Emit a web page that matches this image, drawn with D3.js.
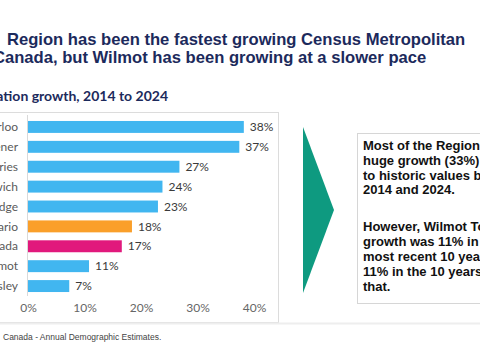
<!DOCTYPE html>
<html>
<head>
<meta charset="utf-8">
<script src="https://cdn.jsdelivr.net/npm/d3@7"></script>
<style>
  body { margin: 0; background: #fff; overflow: hidden; }
  svg { display: block; }
</style>
</head>
<body>
<script>
// chart data
const categories = ["Region of Waterloo", "Kitchener", "North Dumfries", "Woolwich",
                    "Cambridge", "Ontario", "Canada", "Wilmot", "Wellesley"];
const growth = [38.2, 37.4, 26.8, 23.8, 23.0, 18.4, 16.6, 10.8, 7.3];
const barColours = ["#41b6f0", "#41b6f0", "#41b6f0", "#41b6f0", "#41b6f0",
                    "#fa9f2a", "#e1197c", "#41b6f0", "#41b6f0"];
const xTicks = [0, 10, 20, 30, 40];

const titleLines = ["Region has been the fastest growing Census Metropolitan",
                    "Canada, but Wilmot has been growing at a slower pace"];
const subtitle = "Population growth, 2014 to 2024";
const noteLines1 = ["Most of the Region has seen", "huge growth (33%) compared",
                    "to historic values between", "2014 and 2024."];
const noteLines2 = ["However, Wilmot Township's", "growth was 11% in the",
                    "most recent 10 years, and", "11% in the 10 years before", "that."];
const source = "Canada - Annual Demographic Estimates.";

window.onload = function() {
  const svg = d3.select("body").append("svg")
    .attr("width", 480)
    .attr("height", 360);

  const navy = "#1c2a5c";

  // title
  svg.append("text").attr("x", 7).attr("y", 45)
    .style("font-family", "Liberation Sans, Arial, sans-serif")
    .style("font-weight", "bold").style("font-size", "16.6px")
    .attr("fill", navy).text(titleLines[0]);
  svg.append("text").attr("x", -7).attr("y", 63)
    .style("font-family", "Liberation Sans, Arial, sans-serif")
    .style("font-weight", "bold").style("font-size", "16.6px")
    .attr("fill", navy).text(titleLines[1]);

  // subtitle (left part falls off the page)
  svg.append("text").attr("x", 168).attr("y", 101)
    .attr("text-anchor", "end")
    .style("font-family", "Lato, sans-serif")
    .style("font-weight", "bold").style("font-size", "14px")
    .attr("fill", navy).text(subtitle);

  // chart frame
  svg.append("rect")
    .attr("x", -10).attr("y", 112.5)
    .attr("width", 288.5).attr("height", 210)
    .attr("fill", "none").attr("stroke", "#dcdcdc").attr("stroke-width", 1);
  svg.append("line")
    .attr("x1", 0).attr("x2", 480).attr("y1", 323.5).attr("y2", 323.5)
    .attr("stroke", "#eeeeee").attr("stroke-width", 2);

  // scales
  const x = d3.scaleLinear().domain([0, 40]).range([28, 254]);
  const y = d3.scaleBand().domain(categories).range([117, 296])
    .paddingInner(0.4).paddingOuter(0.2);

  // axis line
  svg.append("line")
    .attr("x1", 27.5).attr("x2", 27.5).attr("y1", 115).attr("y2", 296)
    .attr("stroke", "#d9d9d9");

  // category labels
  svg.selectAll(".cat")
    .data(categories)
    .enter()
    .append("text")
    .attr("x", 18)
    .attr("y", d => y(d) + y.bandwidth() / 2)
    .attr("dy", "0.35em")
    .attr("text-anchor", "end")
    .style("font-family", "Lato, sans-serif")
    .style("font-size", "12px")
    .attr("fill", "#5a5a5a")
    .text(d => d);

  // bars
  svg.selectAll(".bar")
    .data(growth)
    .enter()
    .append("rect")
    .attr("x", x(0))
    .attr("y", (d, i) => y(categories[i]))
    .attr("width", d => x(d) - x(0))
    .attr("height", y.bandwidth())
    .attr("fill", (d, i) => barColours[i]);

  // value labels
  svg.selectAll(".val")
    .data(growth)
    .enter()
    .append("text")
    .attr("x", d => x(d) + 6)
    .attr("y", (d, i) => y(categories[i]) + y.bandwidth() / 2)
    .attr("dy", "0.35em")
    .style("font-family", "Lato, sans-serif")
    .style("font-size", "12px")
    .attr("fill", "#3a3a3a")
    .text(d => Math.round(d) + "%");

  // x axis
  const xAxis = d3.axisBottom(x).tickValues(xTicks)
    .tickFormat(d => d + "%").tickSize(0).tickPadding(0);
  const gx = svg.append("g")
    .attr("transform", "translate(0, 303)")
    .call(xAxis);
  gx.select(".domain").remove();
  gx.selectAll("text")
    .style("font-family", "Lato, sans-serif")
    .style("font-size", "12px")
    .attr("fill", "#666");

  // arrow
  svg.append("path")
    .attr("d", "M303,127 L334,210 L303,293 Z")
    .attr("fill", "#0e9a80");

  // note box
  svg.append("rect")
    .attr("x", 357.5).attr("y", 133.5)
    .attr("width", 140).attr("height", 170)
    .attr("fill", "#fff").attr("stroke", "#d6d6d6");

  const note = svg.append("g")
    .style("font-family", "Liberation Sans, Arial, sans-serif")
    .style("font-weight", "bold").style("font-size", "13px")
    .attr("fill", "#111");
  noteLines1.forEach((t, i) => {
    note.append("text").attr("x", 363).attr("y", 150 + i * 14.8).text(t);
  });
  noteLines2.forEach((t, i) => {
    note.append("text").attr("x", 363).attr("y", 231 + i * 15).text(t);
  });

  // source
  svg.append("text").attr("x", 3).attr("y", 340)
    .style("font-family", "Liberation Sans, Arial, sans-serif")
    .style("font-size", "8.5px")
    .attr("fill", "#444").text(source);
};
</script>
</body>
</html>
